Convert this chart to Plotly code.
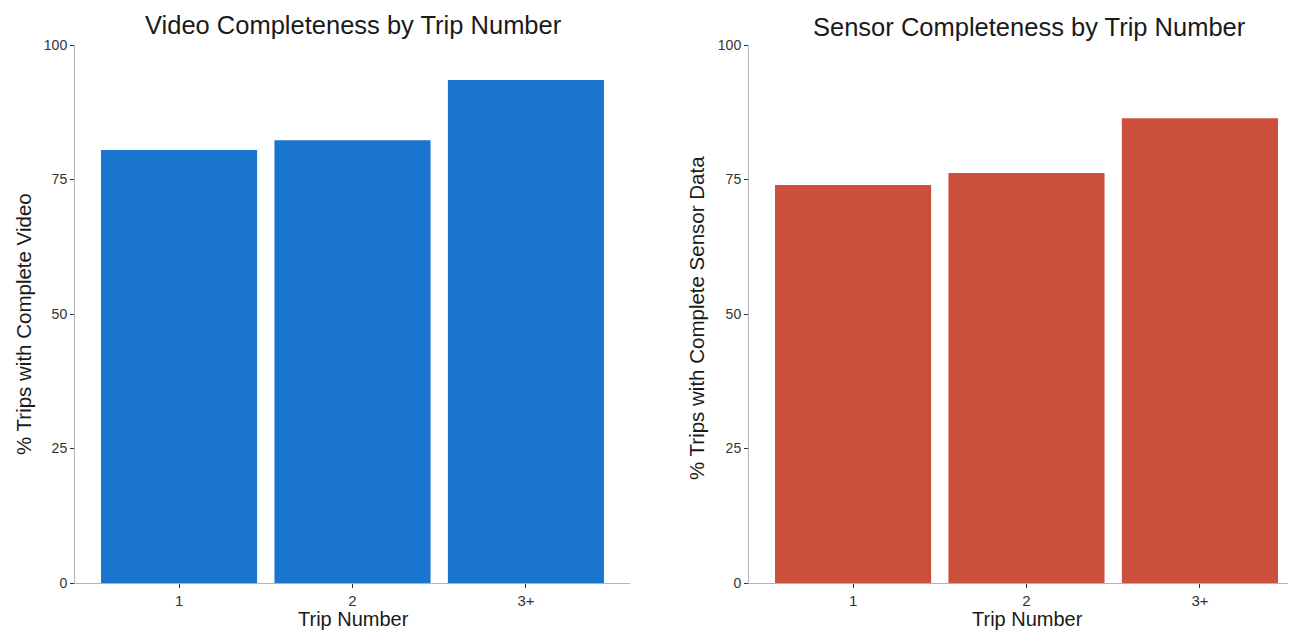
import plotly.graph_objects as go

categories = ["1", "2", "3+"]
video_pct = [80.5, 82.3, 93.5]
sensor_pct = [74.0, 76.2, 86.4]
y_ticks = [0, 25, 50, 75, 100]

W, H = 1296, 632
FONT = "Liberation Sans, Arial, sans-serif"
BLUE = "#1a75cf"
RED = "#cb4f3b"

# mapping from target pixel position to paper fraction (empirically calibrated)
X_OFF, Y_OFF, H_EFF = 7.0, 16.0, 616.0

def px(x):
    return (x - X_OFF) / W

def py(y):
    return 1 - (y - Y_OFF) / H_EFF

fig = go.Figure()
fig.add_trace(go.Bar(x=categories, y=video_pct, marker=dict(color=BLUE, line=dict(width=0)),
                     width=0.9, xaxis="x", yaxis="y", showlegend=False))
fig.add_trace(go.Bar(x=categories, y=sensor_pct, marker=dict(color=RED, line=dict(width=0)),
                     width=0.9, xaxis="x2", yaxis="y2", showlegend=False))

axis_common = dict(showgrid=False, zeroline=False, showline=True, linecolor="#b3b3b3", linewidth=1,
                   ticks="outside", ticklen=4, tickcolor="#333333", tickwidth=1)

x_dom1 = [px(74), px(629)]
x_dom2 = [px(748), min(1.0, px(1303))]
y_dom = [py(583), py(45)]

fig.update_layout(
    width=W, height=H, margin=dict(l=0, r=0, t=0, b=0),
    paper_bgcolor="white", plot_bgcolor="white",
    xaxis=dict(domain=x_dom1, range=[-0.6, 2.6], anchor="y", type="category",
               tickfont=dict(family=FONT, size=15, color="#333333"), **axis_common),
    yaxis=dict(domain=y_dom, range=[0, 100], anchor="x", tickvals=y_ticks,
               tickfont=dict(family=FONT, size=14, color="#333333"), **axis_common),
    xaxis2=dict(domain=x_dom2, range=[-0.6, 2.6], anchor="y2", type="category",
                tickfont=dict(family=FONT, size=15, color="#333333"), **axis_common),
    yaxis2=dict(domain=y_dom, range=[0, 100], anchor="x2", tickvals=y_ticks,
                tickfont=dict(family=FONT, size=14, color="#333333"), **axis_common),
    bargap=0.1,
)

ann = []
def add_text(text, x, y, size, angle=0):
    ann.append(dict(text=text, x=px(x), y=py(y), xref="paper", yref="paper", showarrow=False,
                    xanchor="center", yanchor="middle", textangle=angle,
                    font=dict(family=FONT, size=size, color="#1a1a1a")))

add_text("Video Completeness by Trip Number", 352, 25, 25.5)
add_text("Sensor Completeness by Trip Number", 1028, 27, 25.5)
add_text("Trip Number", 352, 619, 20)
add_text("Trip Number", 1026, 619, 20)
add_text("% Trips with Complete Video", 22, 324, 20.5, -90)
add_text("% Trips with Complete Sensor Data", 695, 318, 20.5, -90)
fig.update_layout(annotations=ann)

fig.write_html("out.html")
